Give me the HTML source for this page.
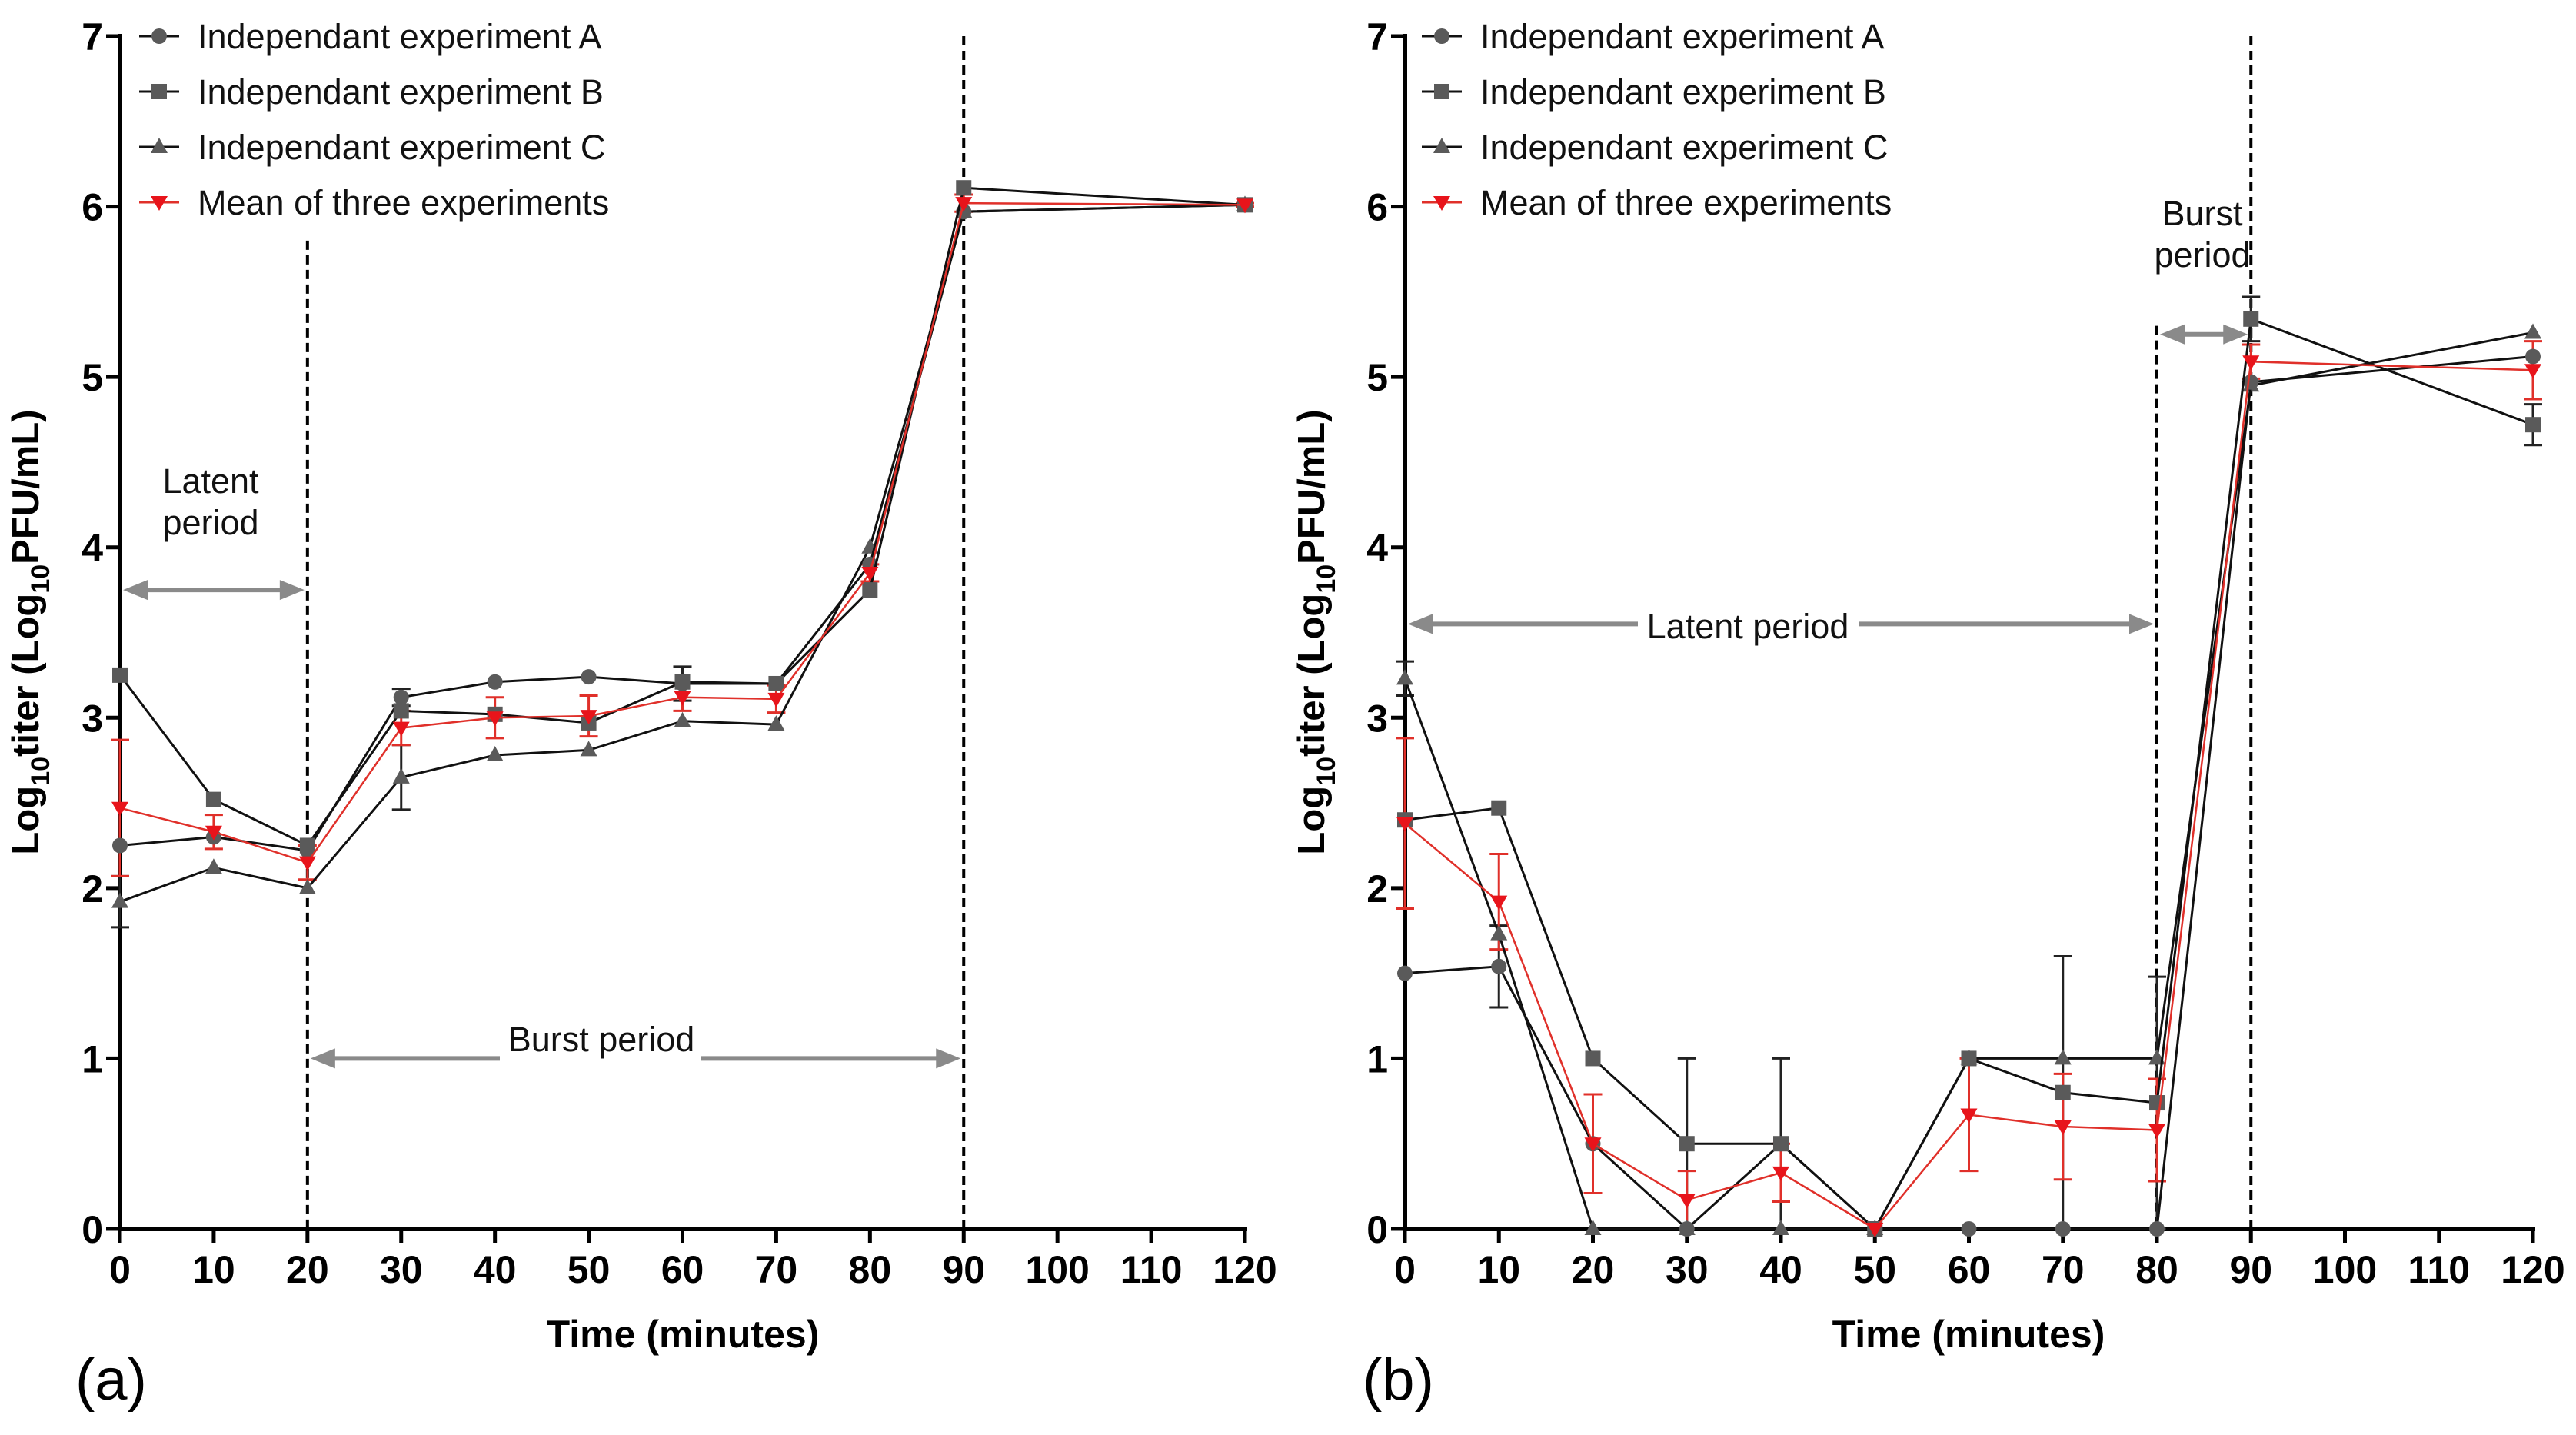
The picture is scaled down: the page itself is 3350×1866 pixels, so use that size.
<!DOCTYPE html>
<html><head><meta charset="utf-8"><style>
html,body{margin:0;padding:0;background:#fff;}
svg{display:block;font-family:"Liberation Sans",Arial,sans-serif;}
</style></head><body>
<svg id="chart" width="3350" height="1866" viewBox="0 0 3350 1866" xmlns="http://www.w3.org/2000/svg"></svg>
<script>
const times = [0,10,20,30,40,50,60,70,80,90,120];
const xTicks = [0,10,20,30,40,50,60,70,80,90,100,110,120];
const yTicks = [0,1,2,3,4,5,6,7];
const legendLabels = ["Independant experiment A","Independant experiment B","Independant experiment C","Mean of three experiments"];
// Panel a
const aSeriesA = [2.25,2.30,2.22,3.12,3.21,3.24,3.20,3.20,3.90,5.97,6.01];
const aSeriesB = [3.25,2.52,2.25,3.04,3.02,2.97,3.21,3.20,3.75,6.11,6.01];
const aSeriesC = [1.92,2.12,2.00,2.65,2.78,2.81,2.98,2.96,4.00,5.97,6.01];
const aMean    = [2.47,2.33,2.15,2.94,3.00,3.01,3.12,3.11,3.85,6.02,6.01];
const aMeanErr = [0.40,0.10,0.10,0.10,0.12,0.12,0.08,0.08,0.05,0.05,0.01];
const aCErr    = [0.15,0.00,0.00,0.19,0.00,0.00,0.00,0.00,0.00,0.00,0.00];
const aAErr    = [0.00,0.00,0.00,0.05,0.00,0.00,0.10,0.00,0.00,0.00,0.00];
// Panel b
const bSeriesA = [1.50,1.54,0.50,0.00,0.50,0.00,0.00,0.00,0.00,4.97,5.12];
const bSeriesB = [2.40,2.47,1.00,0.50,0.50,0.00,1.00,0.80,0.74,5.34,4.72];
const bSeriesC = [3.23,1.73,0.00,0.00,0.00,0.00,1.00,1.00,1.00,4.95,5.26];
const bMean    = [2.38,1.92,0.50,0.17,0.33,0.00,0.67,0.60,0.58,5.09,5.04];
const bMeanErr = [0.50,0.28,0.29,0.17,0.17,0.00,0.33,0.31,0.30,0.10,0.17];
const bAErr    = [0.00,0.24,0.00,0.00,0.00,0.00,0.00,0.00,0.00,0.00,0.00];
const bBErr    = [0.00,0.00,0.00,0.50,0.50,0.00,0.00,0.80,0.74,0.13,0.12];
const bCErr    = [0.10,0.00,0.00,0.00,0.00,0.00,0.00,0.00,0.00,0.00,0.00];

const NS="http://www.w3.org/2000/svg";
const svg=document.getElementById('chart');
function mk(tag,attrs,parent){const e=document.createElementNS(NS,tag);for(const k in attrs)e.setAttribute(k,attrs[k]);(parent||svg).appendChild(e);return e;}

function panel(cfg){
  const g=mk('g',{});
  
  
  const X=v=>cfg.x0+(cfg.x1-cfg.x0)*v/120;
  const Y=v=>1598-(1598-47)*v/7;
  const ax=mk('g',{},g);
  
  
  mk('line',{x1:X(0),y1:Y(7)-3,x2:X(0),y2:Y(0)+3,stroke:'#000','stroke-width':6},ax);
  mk('line',{x1:X(0)-3,y1:Y(0),x2:X(120)+3,y2:Y(0),stroke:'#000','stroke-width':6},ax);
  yTicks.forEach(t=>{
    mk('line',{x1:X(0)-18,y1:Y(t),x2:X(0),y2:Y(t),stroke:'#000','stroke-width':5},ax);
    const tx=mk('text',{x:X(0)-22,y:Y(t)+18,'font-size':50,'font-weight':'bold','text-anchor':'end'},ax);
    
    
    tx.textContent=t;
  });
  xTicks.forEach(t=>{
    mk('line',{x1:X(t),y1:Y(0),x2:X(t),y2:Y(0)+18,stroke:'#000','stroke-width':5},ax);
    const tx=mk('text',{x:X(t),y:Y(0)+70,'font-size':50,'font-weight':'bold','text-anchor':'middle'},ax);
    
    
    tx.textContent=t;
  });
  const yt=mk('text',{x:0,y:0,'font-size':49,'font-weight':'bold','text-anchor':'middle',transform:`translate(${cfg.ytx},822) rotate(-90)`},g);
  
  
  yt.innerHTML='Log<tspan font-size="34" dy="14">10</tspan><tspan dy="-14">titer (Log</tspan><tspan font-size="34" dy="14">10</tspan><tspan dy="-14">PFU/mL)</tspan>';
  const xt=mk('text',{x:cfg.xtx,y:1752,'font-size':50,'font-weight':'bold','text-anchor':'middle'},g);
  
  
  xt.textContent='Time (minutes)';
  const pl=mk('text',{x:cfg.plx,y:1820,'font-size':76},g);
  
  
  pl.textContent=cfg.label;
  cfg.dashes.forEach(d=>{
    const l=mk('line',{x1:X(d[0]),y1:Y(d[1]),x2:X(d[0]),y2:Y(0),stroke:'#000','stroke-width':4,'stroke-dasharray':'12,7'},g);
    
    
  });
  cfg.arrows.forEach(a=>{
    const ag=mk('g',{},g);
    
    
    const xa=X(a.from)+4, xb=X(a.to)-4, y=Y(a.y);
    if(a.gap){
      mk('line',{x1:xa+20,y1:y,x2:a.gap[0],y2:y,stroke:'#8a8a8a','stroke-width':6},ag);
      mk('line',{x1:a.gap[1],y1:y,x2:xb-20,y2:y,stroke:'#8a8a8a','stroke-width':6},ag);
    } else mk('line',{x1:xa+20,y1:y,x2:xb-20,y2:y,stroke:'#8a8a8a','stroke-width':6},ag);
    mk('polygon',{points:`${xa},${y} ${xa+32},${y-13} ${xa+32},${y+13}`,fill:'#8a8a8a'},ag);
    mk('polygon',{points:`${xb},${y} ${xb-32},${y-13} ${xb-32},${y+13}`,fill:'#8a8a8a'},ag);
  });
  cfg.notes.forEach(n=>{
    n.lines.forEach((s,i)=>{
      const t=mk('text',{x:n.x,y:n.y+i*54,'font-size':45,'text-anchor':'middle',fill:'#111'},g);
      
      
      t.textContent=s;
    });
  });
  function errs(vals,err,color,name){
    const eg=mk('g',{},g);
    
    
    times.forEach((t,i)=>{
      if(!err[i])return;
      const x=X(t);
      mk('line',{x1:x,y1:Y(vals[i]-err[i]),x2:x,y2:Y(vals[i]+err[i]),stroke:color,'stroke-width':3},eg);
      [vals[i]-err[i],vals[i]+err[i]].forEach(v=>mk('line',{x1:x-12,y1:Y(v),x2:x+12,y2:Y(v),stroke:color,'stroke-width':3},eg));
    });
  }
  const enames=['error-bars-a','error-bars-b','error-bars-c','error-bars-mean'];
  [0,1,2,3].forEach(k=>{ if(cfg.e[k]) errs(cfg.s[k],cfg.e[k],k===3?'#e0302a':'#222',enames[k]); });
  function marker(type,x,y,color,parent){
    if(type==='circle')mk('circle',{cx:x,cy:y,r:10,fill:color},parent);
    else if(type==='square')mk('rect',{x:x-10,y:y-10,width:20,height:20,fill:color},parent);
    else if(type==='tri')mk('polygon',{points:`${x},${y-12} ${x-11},${y+8} ${x+11},${y+8}`,fill:color},parent);
    else mk('polygon',{points:`${x},${y+11} ${x-11},${y-8} ${x+11},${y-8}`,fill:color},parent);
  }
  const types=['circle','square','tri','down'];
  const colors=['#5a5a5a','#5a5a5a','#5a5a5a','#e8141b'];
  const lineColors=['#111','#111','#111','#e0302a'];
  const names=['series-experiment-a','series-experiment-b','series-experiment-c','series-mean'];
  [2,0,1,3].forEach(k=>{
    const sg=mk('g',{},g);
    
    
    mk('polyline',{points:times.map((t,i)=>X(t)+','+Y(cfg.s[k][i])).join(' '),fill:'none',stroke:lineColors[k],'stroke-width':k===3?2.5:3},sg);
    times.forEach((t,i)=>marker(types[k],X(t),Y(cfg.s[k][i]),colors[k],sg));
  });
  const lg=mk('g',{},g);
  
  
  legendLabels.forEach((s,i)=>{
    const y=cfg.ly+i*72;
    const eg=mk('g',{},lg);
    
    
    mk('line',{x1:cfg.lx-26,y1:y,x2:cfg.lx+26,y2:y,stroke:lineColors[i],'stroke-width':3},eg);
    marker(types[i],cfg.lx,y,colors[i],eg);
    const t=mk('text',{x:cfg.lx+50,y:y+16,'font-size':45,fill:'#111'},eg);
    t.textContent=s;
  });
}

panel({name:'panel-a',x0:156,x1:1619,ytx:50,xtx:888,plx:98,label:'(a)',lx:207,ly:47,
  s:[aSeriesA,aSeriesB,aSeriesC,aMean],e:[aAErr,null,aCErr,aMeanErr],
  dashes:[[20,5.8],[90,7]],
  arrows:[{from:0,to:20,y:3.75},{from:20,to:90,y:1.0,gap:[650,912]}],
  notes:[{x:274,y:641,lines:['Latent','period']},{x:782,y:1367,lines:['Burst period']}]});
panel({name:'panel-b',x0:1827,x1:3294,ytx:1722,xtx:2560,plx:1772,label:'(b)',lx:1875,ly:47,
  s:[bSeriesA,bSeriesB,bSeriesC,bMean],e:[bAErr,bBErr,bCErr,bMeanErr],
  dashes:[[80,5.3],[90,7]],
  arrows:[{from:0,to:80,y:3.55,gap:[2130,2418]},{from:80,to:90,y:5.25}],
  notes:[{x:2273,y:830,lines:['Latent period']},{x:2864,y:293,lines:['Burst','period']}]});
</script>
</body></html>
